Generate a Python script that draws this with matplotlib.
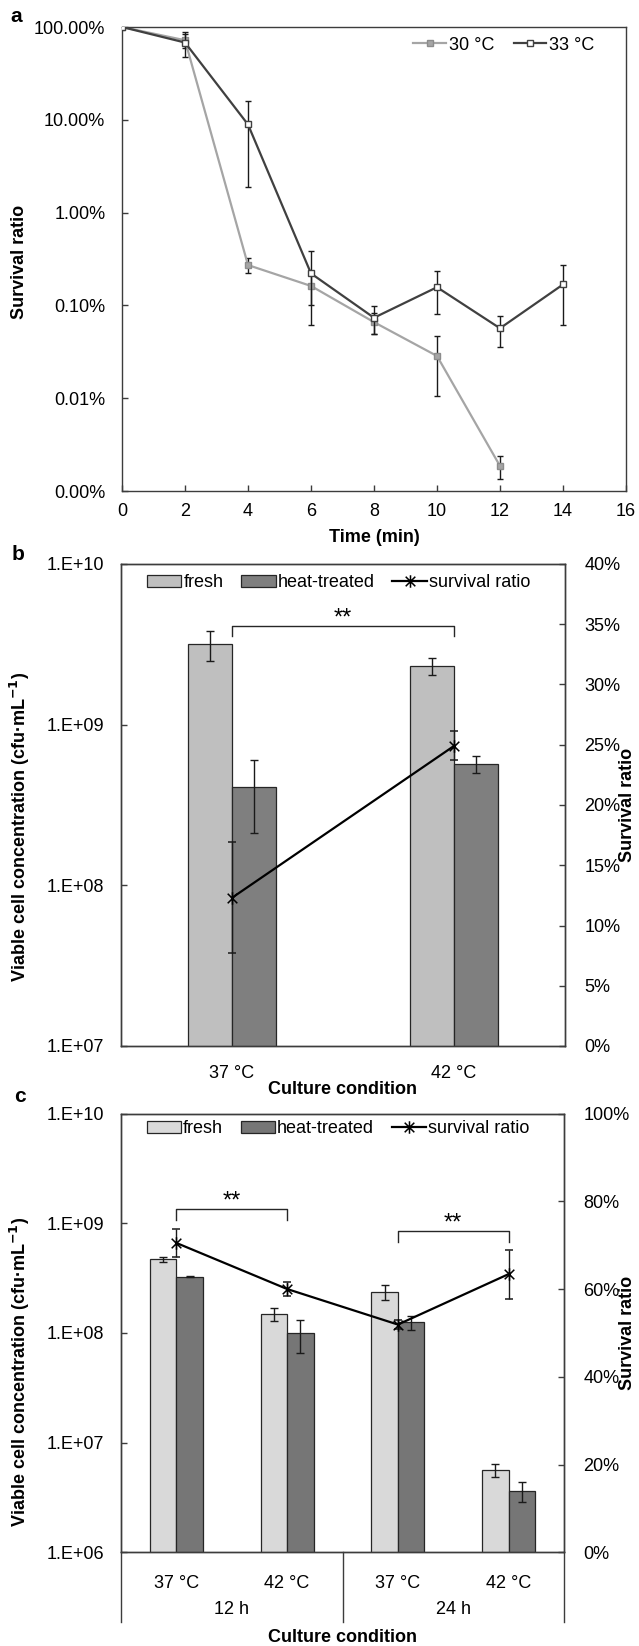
import numpy as np
import matplotlib
matplotlib.use('Agg')
import matplotlib.pyplot as plt
import matplotlib.transforms as mtrans
from matplotlib.path import Path
from matplotlib.lines import Line2D
from matplotlib.ticker import FuncFormatter, FixedLocator, NullLocator, MultipleLocator

plt.rcParams['font.family'] = ['Liberation Sans', 'DejaVu Sans']
plt.rcParams['font.size'] = 13

# panel a: survival vs time (%)
time_30 = [0, 2, 4, 6, 8, 10, 12]
surv_30 = [100, 72, 0.272, 0.162, 0.066, 0.0285, 0.00186]
sd_30 = [0, 12, 0.05, 0.06, 0.017, 0.018, 0.0005]
time_33 = [0, 2, 4, 6, 8, 10, 12, 14]
surv_33 = [100, 68, 8.9, 0.221, 0.0736, 0.157, 0.0567, 0.168]
sd_33 = [0, 20, 7.0, 0.16, 0.025, 0.076, 0.021, 0.107]

# panel b
cond_b = ['37 °C', '42 °C']
fresh_b = [3.16e9, 2.32e9]
fresh_b_sd = [0.66e9, 0.29e9]
heat_b = [4.1e8, 5.7e8]
heat_b_sd = [1.97e8, 0.68e8]
ratio_b = [12.3, 24.9]
ratio_b_sd = [4.6, 1.2]

# panel c
cond_c = ['37 °C', '42 °C', '37 °C', '42 °C']
time_c = ['12 h', '24 h']
fresh_c = [4.67e8, 1.48e8, 2.35e8, 5.6e6]
fresh_c_sd = [0.28e8, 0.19e8, 0.37e8, 0.72e6]
heat_c = [3.24e8, 9.9e7, 1.25e8, 3.6e6]
heat_c_sd = [0.03e8, 3.3e7, 0.19e8, 0.74e6]
ratio_c = [70.5, 60.0, 51.9, 63.4]
ratio_c_sd = [3.1, 1.5, 1.0, 5.6]

W, H = 639, 1646
AX_COL = '#3c3c3c'


def box(l, t, r, b):
    return [l / W, 1 - b / H, (r - l) / W, (b - t) / H]


def fpos(x, y):
    return x / W, 1 - y / H


# asterisk marker like excel's "star"
star = Path([(-1, -1), (1, 1), (-1, 1), (1, -1), (0, -1.3), (0, 1.3)],
            [Path.MOVETO, Path.LINETO] * 3)


def style_axes(ax):
    for s in ax.spines.values():
        s.set_color(AX_COL)
        s.set_linewidth(1.0)
    ax.tick_params(direction='in', length=4, width=1, color=AX_COL, labelsize=13)


fig = plt.figure(figsize=(W / 100, H / 100), dpi=100)

# ---------------- panel a
ax = fig.add_axes(box(122, 27, 626, 491))
style_axes(ax)
sty_30 = dict(color='#a5a5a5', lw=1.6, marker='s', ms=5, mfc='#a5a5a5', mec='#8c8c8c')
sty_33 = dict(color='#404040', lw=1.6, marker='s', ms=5, mfc='white', mec='#404040')
ax.errorbar(time_30, surv_30, yerr=sd_30, ecolor='#1a1a1a', elinewidth=1, capsize=2.5,
            zorder=2, **sty_30)
ax.errorbar(time_33, surv_33, yerr=sd_33, ecolor='#1a1a1a', elinewidth=1, capsize=2.5,
            zorder=3, **sty_33)
ax.set_yscale('log')
ax.set_ylim(0.001, 100)
ax.set_xlim(0, 16)
ax.xaxis.set_major_locator(MultipleLocator(2))
ax.yaxis.set_major_locator(FixedLocator([0.001, 0.01, 0.1, 1, 10, 100]))
ax.yaxis.set_minor_locator(NullLocator())
ax.yaxis.set_major_formatter(FuncFormatter(lambda v, p: f'{v:.2f}%'))
ax.tick_params(axis='y', pad=12)
ax.tick_params(axis='x', pad=9)
hs = [Line2D([], [], **sty_30), Line2D([], [], **sty_33)]
ax.legend(hs, ['30 °C', '33 °C'], loc='center right', bbox_to_anchor=(0.955, 0.961), ncol=2,
          frameon=False, handlelength=1.8, handletextpad=0.15, columnspacing=1.1, borderpad=0,
          fontsize=13)
fig.text(*fpos(374, 538), 'Time (min)', ha='center', va='center', fontweight='bold', fontsize=13)
fig.text(*fpos(20, 262), 'Survival ratio', rotation=90, ha='center', va='center',
         fontweight='bold', fontsize=13)
fig.text(*fpos(16, 17), 'a', ha='center', va='center', fontweight='bold', fontsize=15)


def sci_fmt(v, p):
    return f'1.E+{int(round(np.log10(v))):02d}'


def bar_panel(ax, cats, fresh, fresh_sd, heat, heat_sd, ratio, ratio_sd, width,
              c_fresh, c_heat, ylim, rlim, rstep):
    x = np.arange(len(cats))
    ax.bar(x - width / 2, fresh, width, color=c_fresh, edgecolor='#262626', lw=0.9,
           label='fresh', zorder=2)
    ax.bar(x + width / 2, heat, width, color=c_heat, edgecolor='#262626', lw=0.9,
           label='heat-treated', zorder=2)
    ax.errorbar(x - width / 2, fresh, yerr=fresh_sd, fmt='none', ecolor='#1a1a1a',
                elinewidth=1, capsize=3, zorder=3)
    ax.errorbar(x + width / 2, heat, yerr=heat_sd, fmt='none', ecolor='#1a1a1a',
                elinewidth=1, capsize=3, zorder=3)
    ax.set_yscale('log')
    ax.set_ylim(*ylim)
    ax.set_xlim(-0.5, len(cats) - 0.5)
    ax.yaxis.set_minor_locator(NullLocator())
    ax.yaxis.set_major_formatter(FuncFormatter(sci_fmt))
    ax.set_xticks(x)
    ax.set_xticklabels(cats)
    ax.tick_params(axis='x', length=0)
    ax.tick_params(axis='y', pad=12)
    ax2 = ax.twinx()
    style_axes(ax2)
    sty = dict(color='black', lw=1.6, marker=star, ms=9, mew=1.1, mec='black')
    ax2.errorbar(x, ratio, yerr=ratio_sd, ecolor='#1a1a1a', elinewidth=1, capsize=3,
                 zorder=4, **sty)
    ax2.set_ylim(*rlim)
    ax2.yaxis.set_major_locator(MultipleLocator(rstep))
    ax2.yaxis.set_major_formatter(FuncFormatter(lambda v, p: f'{v:.0f}%'))
    ax2.tick_params(axis='y', pad=14)
    h1, l1 = ax.get_legend_handles_labels()
    return ax2, h1 + [Line2D([], [], **sty)], l1 + ['survival ratio']


def bracket(ax, i, j, y_line, y_end, label='**'):
    ax.plot([i, i, j, j], [y_end, y_line, y_line, y_end], color='#262626', lw=1, zorder=5)
    ax.annotate(label, xy=((i + j) / 2, y_line), xytext=(0, 1), textcoords='offset points',
                ha='center', va='baseline', fontsize=17, zorder=5)


# ---------------- panel b
ax = fig.add_axes(box(121, 564, 565, 1046))
style_axes(ax)
ax2, hs, ls = bar_panel(ax, cond_b, fresh_b, fresh_b_sd, heat_b, heat_b_sd, ratio_b,
                        ratio_b_sd, 0.2, '#bfbfbf', '#7f7f7f', (1e7, 1e10), (0, 40), 5)
ax.tick_params(axis='x', pad=14)
bracket(ax, 0, 1, 4.13e9, 3.58e9)
ax2.legend(hs, ls, loc='center', bbox_to_anchor=(0.49, 0.961), ncol=3, frameon=False,
           handlelength=1.9, handletextpad=0.1, columnspacing=1.0, borderpad=0, fontsize=13)
fig.text(*fpos(343, 1089), 'Culture condition', ha='center', va='center',
         fontweight='bold', fontsize=13)
fig.text(*fpos(20, 827), 'Viable cell concentration (cfu·mL$^{\\mathbf{-1}}$)', rotation=90,
         ha='center', va='center', fontweight='bold', fontsize=13)
fig.text(*fpos(628, 805), 'Survival ratio', rotation=90, ha='center', va='center',
         fontweight='bold', fontsize=13)
fig.text(*fpos(18, 555), 'b', ha='center', va='center', fontweight='bold', fontsize=15)

# ---------------- panel c
ax = fig.add_axes(box(121, 1113.5, 564, 1552.3))
style_axes(ax)
ax2, hs, ls = bar_panel(ax, cond_c, fresh_c, fresh_c_sd, heat_c, heat_c_sd, ratio_c,
                        ratio_c_sd, 0.24, '#d9d9d9', '#767676', (1e6, 1e10), (0, 100), 20)
ax.tick_params(axis='x', pad=16)
bracket(ax, 0, 1, 1.34e9, 1.07e9)
bracket(ax, 2, 3, 8.49e8, 6.78e8)
ax2.legend(hs, ls, loc='center', bbox_to_anchor=(0.49, 0.965), ncol=3, frameon=False,
           handlelength=1.9, handletextpad=0.1, columnspacing=1.0, borderpad=0, fontsize=13)
trans = mtrans.blended_transform_factory(ax.transData, ax.transAxes)
for k, g in enumerate(time_c):
    ax.text(2 * k + 0.5, -0.131, g, transform=trans, ha='center', va='center', fontsize=13)
for xs in [-0.5, 1.5, 3.5]:
    ax.plot([xs, xs], [0, -0.158], transform=trans, color=AX_COL, lw=1, clip_on=False)
fig.text(*fpos(343, 1637), 'Culture condition', ha='center', va='center',
         fontweight='bold', fontsize=13)
fig.text(*fpos(20, 1372), 'Viable cell concentration (cfu·mL$^{\\mathbf{-1}}$)', rotation=90,
         ha='center', va='center', fontweight='bold', fontsize=13)
fig.text(*fpos(628, 1333), 'Survival ratio', rotation=90, ha='center', va='center',
         fontweight='bold', fontsize=13)
fig.text(*fpos(20, 1097), 'c', ha='center', va='center', fontweight='bold', fontsize=15)

fig.savefig('out.png', dpi=100)
